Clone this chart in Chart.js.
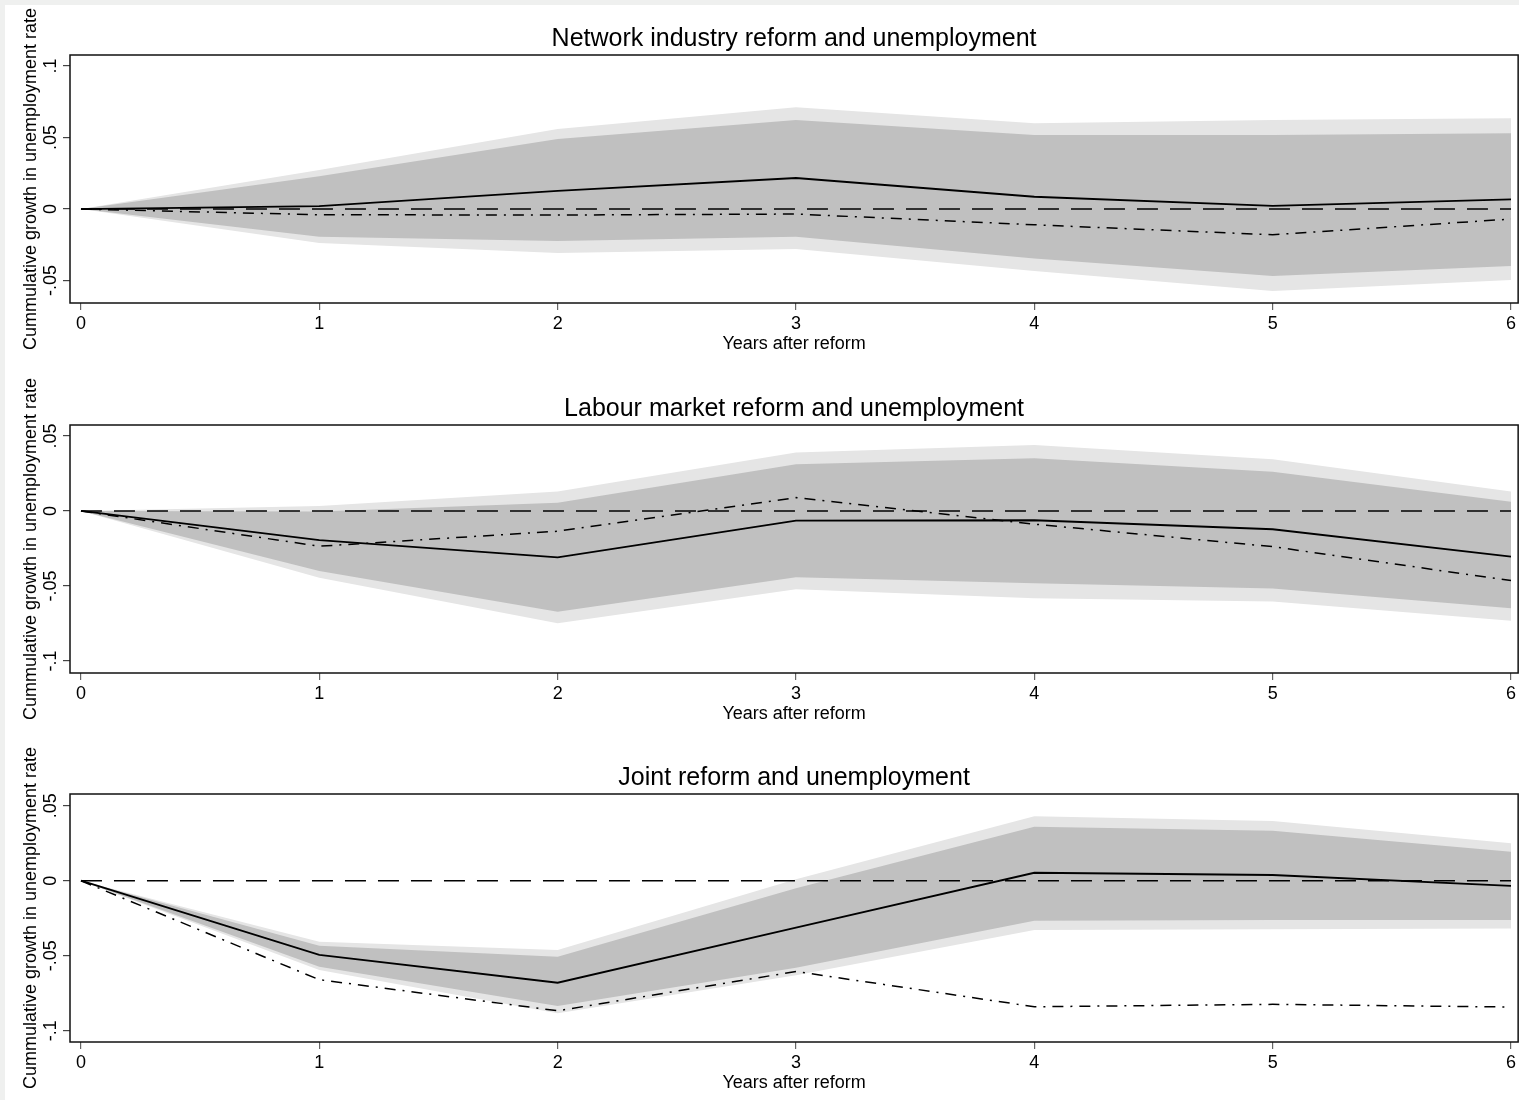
<!DOCTYPE html>
<html>
<head>
<meta charset="utf-8">
<script src="https://cdn.jsdelivr.net/npm/chart.js@4.4.1/dist/chart.umd.min.js"></script>
<style>
  body { margin: 0; background: #eff0ef; overflow: hidden; }
  #page { position: absolute; left: 5px; top: 5px; width: 1514px; height: 1095px; background: #fff; overflow: hidden; }
  .panel { position: absolute; left: 0; width: 1514px; height: 360px; }
</style>
</head>
<body>
<div id="page">
  <div class="panel" style="top:0px"><canvas id="c1" width="1514" height="360"></canvas></div>
  <div class="panel" style="top:370px"><canvas id="c2" width="1514" height="360"></canvas></div>
  <div class="panel" style="top:739px"><canvas id="c3" width="1514" height="360"></canvas></div>
</div>
<script>
// years after reform
const years = [0, 1, 2, 3, 4, 5, 6];
const zeroLine = [0, 0, 0, 0, 0, 0, 0];

// Network industry reform
const netEst  = [0, 0.0020, 0.0127, 0.0217, 0.0086, 0.0022, 0.0068];
const netAlt  = [0, -0.0040, -0.0042, -0.0035, -0.0110, -0.0180, -0.0070];
const netHi90 = [0, 0.0273, 0.0560, 0.0711, 0.0600, 0.0622, 0.0634];
const netHi   = [0, 0.0230, 0.0490, 0.0622, 0.0517, 0.0517, 0.0530];
const netLo   = [0, -0.0194, -0.0224, -0.0194, -0.0345, -0.0469, -0.0399];
const netLo90 = [0, -0.0238, -0.0308, -0.0280, -0.0434, -0.0573, -0.0497];

// Labour market reform
const labEst  = [0, -0.0195, -0.0309, -0.0064, -0.0062, -0.0122, -0.0304];
const labAlt  = [0, -0.0235, -0.0135, 0.0089, -0.0088, -0.0238, -0.0464];
const labHi90 = [0, 0.0033, 0.0129, 0.0389, 0.0440, 0.0345, 0.0129];
const labHi   = [0, -0.0003, 0.0055, 0.0311, 0.0351, 0.0262, 0.0062];
const labLo   = [0, -0.0400, -0.0671, -0.0442, -0.0482, -0.0516, -0.0649];
const labLo90 = [0, -0.0445, -0.0749, -0.0522, -0.0582, -0.0604, -0.0731];

// Joint reform
const jointEst  = [0, -0.0495, -0.0680, -0.0313, 0.0053, 0.0038, -0.0035];
const jointAlt  = [0, -0.0660, -0.0867, -0.0605, -0.0840, -0.0824, -0.0842];
const jointHi90 = [0, -0.0406, -0.0462, 0.0010, 0.0429, 0.0398, 0.0250];
const jointHi   = [0, -0.0433, -0.0507, -0.0050, 0.0360, 0.0333, 0.0193];
const jointLo   = [0, -0.0573, -0.0835, -0.0580, -0.0267, -0.0262, -0.0262];
const jointLo90 = [0, -0.0595, -0.0884, -0.0630, -0.0329, -0.0324, -0.0318];

// y axis ticks and their labels
const netYTicks = [-0.05, 0, 0.05, 0.1];
const netYLabels = ['-.05', '0', '.05', '.1'];
const otherYTicks = [-0.1, -0.05, 0, 0.05];
const otherYLabels = ['-.1', '-.05', '0', '.05'];

const FONT = "'Liberation Sans', Arial, Helvetica, sans-serif";
Chart.defaults.font.family = FONT;
Chart.defaults.color = '#000';

const pts = (arr) => years.map((x, i) => ({ x: x, y: arr[i] }));

// draws the frame, the panel title and the rotated y tick labels
const panelText = {
  id: 'panelText',
  afterDatasetsDraw(chart) {
    const { ctx, chartArea: a } = chart;
    ctx.save();
    ctx.strokeStyle = '#111';
    ctx.lineWidth = 1.5;
    ctx.strokeRect(a.left, a.top, a.right - a.left, a.bottom - a.top);
    ctx.restore();
  },
  afterDraw(chart, args, opts) {
    const { ctx, chartArea: a, scales } = chart;
    ctx.save();
    ctx.fillStyle = '#000';
    ctx.font = '25px ' + FONT;
    ctx.textAlign = 'center';
    ctx.textBaseline = 'middle';
    ctx.fillText(opts.title, (a.left + a.right) / 2, 34);

    ctx.font = '18px ' + FONT;
    opts.yTicks.forEach((v, i) => {
      const py = scales.y.getPixelForValue(v);
      ctx.save();
      ctx.translate(46, py);
      ctx.rotate(-Math.PI / 2);
      ctx.fillText(opts.yLabels[i], 0, 0);
      ctx.restore();
    });
    ctx.restore();
  }
};

function makePanel(id, title, est, alt, hi90, hi, lo, lo90, yMin, yMax, yTicks, yLabels) {
  new Chart(document.getElementById(id), {
    type: 'line',
    data: {
      datasets: [
        { data: pts(hi90), fill: '+1', backgroundColor: '#e5e5e5', borderColor: 'rgba(0,0,0,0)', borderWidth: 0, pointRadius: 0, order: 3 },
        { data: pts(lo90), fill: false, borderColor: 'rgba(0,0,0,0)', borderWidth: 0, pointRadius: 0, order: 3 },
        { data: pts(hi), fill: '+1', backgroundColor: '#c0c0c0', borderColor: 'rgba(0,0,0,0)', borderWidth: 0, pointRadius: 0, order: 2 },
        { data: pts(lo), fill: false, borderColor: 'rgba(0,0,0,0)', borderWidth: 0, pointRadius: 0, order: 2 },
        { data: pts(zeroLine), borderColor: '#000', borderWidth: 1.6, borderDash: [21, 12], pointRadius: 0, fill: false, order: 1 },
        { data: pts(alt), borderColor: '#000', borderWidth: 1.5, borderDash: [11, 7, 2, 7], pointRadius: 0, fill: false, order: 0 },
        { data: pts(est), borderColor: '#000', borderWidth: 1.8, pointRadius: 0, fill: false, order: 0 }
      ]
    },
    options: {
      responsive: false,
      animation: false,
      events: [],
      layout: { padding: { top: 50, right: 0, bottom: 0, left: 0 } },
      plugins: {
        legend: { display: false },
        tooltip: { enabled: false },
        panelText: { title: title, yTicks: yTicks, yLabels: yLabels }
      },
      scales: {
        x: {
          type: 'linear',
          min: -0.046,
          max: 6.03,
          afterBuildTicks: (s) => { s.ticks = years.map((v) => ({ value: v })); },
          afterFit: (s) => { s.height = 62; },
          ticks: { font: { size: 18, lineHeight: 1.2 }, padding: 3, color: '#000', callback: (v) => String(v) },
          grid: { drawOnChartArea: false, drawTicks: true, tickLength: 7, color: '#666', lineWidth: 1.2 },
          border: { display: false },
          title: { display: true, text: 'Years after reform', font: { size: 18, lineHeight: 1.2 }, padding: { top: 0, bottom: 10 }, color: '#000' }
        },
        y: {
          min: yMin,
          max: yMax,
          afterBuildTicks: (s) => { s.ticks = yTicks.map((v) => ({ value: v })); },
          afterFit: (s) => { s.width = 65; },
          ticks: { display: false },
          grid: { drawOnChartArea: false, drawTicks: true, tickLength: 7, color: '#444', lineWidth: 1.2 },
          border: { display: false },
          title: { display: true, text: 'Cummulative growth in unemployment rate', font: { size: 18, lineHeight: 1.2 }, padding: { top: 15, bottom: 0 }, color: '#000' }
        }
      }
    },
    plugins: [panelText]
  });
}

makePanel('c1', 'Network industry reform and unemployment',
  netEst, netAlt, netHi90, netHi, netLo, netLo90, -0.0657, 0.1077, netYTicks, netYLabels);
makePanel('c2', 'Labour market reform and unemployment',
  labEst, labAlt, labHi90, labHi, labLo, labLo90, -0.108, 0.0573, otherYTicks, otherYLabels);
makePanel('c3', 'Joint reform and unemployment',
  jointEst, jointAlt, jointHi90, jointHi, jointLo, jointLo90, -0.1075, 0.0578, otherYTicks, otherYLabels);
</script>
</body>
</html>
